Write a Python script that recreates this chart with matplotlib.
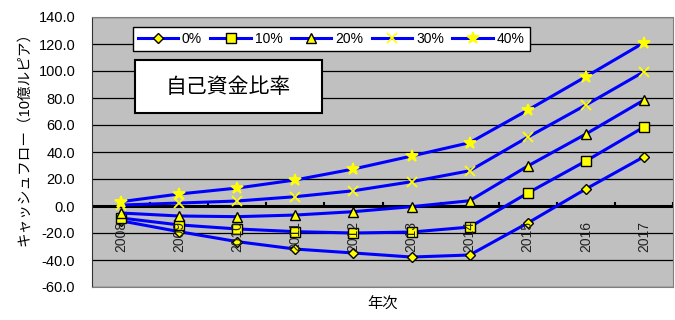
import matplotlib
matplotlib.use("Agg")
import matplotlib.pyplot as plt
from matplotlib.patches import Rectangle

plt.rcParams['font.family'] = ['Liberation Sans', 'Noto Sans CJK JP', 'DejaVu Sans']

years = ['2008', '2009', '2010', '2011', '2012', '2013', '2014', '2015', '2016', '2017']
labels = ['0%', '10%', '20%', '30%', '40%']

cf_0 = [-11.0, -19.0, -26.4, -31.9, -34.8, -37.8, -36.3, -12.6, 12.6, 36.5]
cf_10 = [-8.9, -14.0, -17.0, -19.0, -20.0, -19.3, -15.6, 9.6, 33.3, 58.5]
cf_20 = [-5.2, -7.4, -7.9, -6.7, -4.2, -0.5, 3.9, 29.6, 53.3, 78.5]
cf_30 = [0.7, 2.2, 3.7, 6.9, 11.3, 18.0, 26.1, 51.0, 74.8, 99.5]
cf_40 = [3.2, 8.9, 13.3, 19.3, 27.4, 37.0, 46.9, 71.0, 95.8, 121.0]

series = [cf_0, cf_10, cf_20, cf_30, cf_40]
markers = [('D', 5, 'black'), ('s', 7, 'black'), ('^', 7, 'black'),
           ('x', 7, 'yellow'), ('*', 9, 'yellow')]

fig = plt.figure(figsize=(6.75, 3.2), dpi=100)
ax = fig.add_axes([92 / 675, 33 / 320, 581 / 675, 270 / 320])
ax.set_facecolor('#c0c0c0')

x = list(range(len(years)))
for vals, lab, (m, ms, ec) in zip(series, labels, markers):
    ax.plot(x, vals, color='#0000ff', lw=2.2, marker=m, ms=ms,
            mfc='yellow', mec=ec, mew=1.0 if ec == 'black' else 1.3,
            label=lab, zorder=3)

ax.set_xlim(-0.5, len(years) - 0.5)
ax.set_ylim(-60, 140)
ax.set_yticks(range(-60, 141, 20))
ax.set_yticklabels([f'{v:.1f}' for v in range(-60, 141, 20)], fontsize=10.5)
ax.tick_params(axis='y', length=0, pad=12)
ax.grid(axis='y', color='black', lw=0.9)
ax.set_axisbelow(True)

# category axis drawn through zero, labels hung beneath it
ax.axhline(0, color='black', lw=2.2, zorder=2)
ax.set_xticks([])
for i in range(len(years) + 1):
    ax.plot([i - 0.5, i - 0.5], [0, 2.5], color='black', lw=1.5, zorder=2)
for i, yr in enumerate(years):
    ax.annotate(yr, (i, 0), xytext=(0, -11), textcoords='offset points',
                rotation=90, ha='center', va='top', fontsize=10, color='#222222')

for s in ['top', 'right', 'bottom']:
    ax.spines[s].set_color('#808080')
ax.spines['left'].set_color('#333333')

ax.set_ylabel('キャッシュフロー（10億ルピア）', fontsize=10.5)
ax.yaxis.set_label_coords(-0.105, 0.563)
ax.set_xlabel('年次', fontsize=11, labelpad=8)

leg = ax.legend(ncol=5, loc='upper left', bbox_to_anchor=(0.07, 0.963),
                borderaxespad=0, fontsize=10, handlelength=2.9,
                columnspacing=0.6, handletextpad=0.3, fancybox=False,
                framealpha=1, edgecolor='black', borderpad=0.35)
leg.get_frame().set_linewidth(1.0)

ax.add_patch(Rectangle((43 / 581, 174 / 270), 187 / 581, 53 / 270,
                       transform=ax.transAxes, facecolor='white',
                       edgecolor='black', lw=1.5, zorder=5))
ax.text(136 / 581, 200 / 270, '自己資金比率', transform=ax.transAxes,
        ha='center', va='center', fontsize=15, zorder=6)

fig.savefig('out.png', dpi=100)
